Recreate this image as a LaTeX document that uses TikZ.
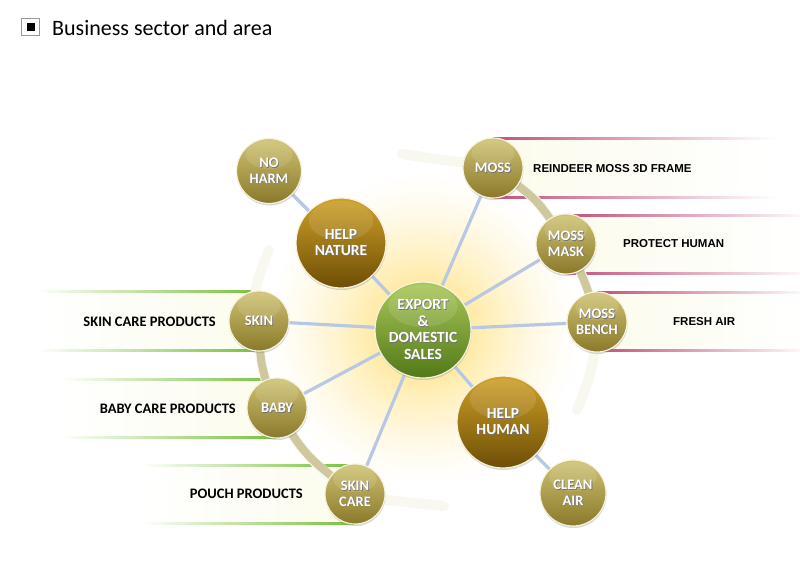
\documentclass[tikz,border=0pt]{standalone}
\usepackage{fontspec}
\setmainfont{Carlito}
\newfontfamily\helv{Liberation Sans}
\usetikzlibrary{shadows}
\definecolor{kTop}{RGB}{208,195,116}
\definecolor{kBot}{RGB}{138,121,42}
\definecolor{bTop}{RGB}{206,160,40}
\definecolor{bBot}{RGB}{110,78,6}
\definecolor{gTop}{RGB}{170,200,90}
\definecolor{gBot}{RGB}{82,120,24}
\definecolor{rim}{RGB}{246,242,222}
\definecolor{spokeC}{RGB}{184,200,228}
\definecolor{arcC}{RGB}{207,200,158}
\definecolor{arcF}{RGB}{248,247,240}
\definecolor{pinkL}{RGB}{196,80,125}
\definecolor{greenL}{RGB}{118,192,58}
\definecolor{bandC}{RGB}{251,251,236}
\definecolor{glowA}{RGB}{255,220,105}
\pgfdeclarelayer{bands}
\pgfdeclarelayer{spokes}
\pgfsetlayers{bands,spokes,main}
\newcommand\shd[1]{\makebox[0pt][l]{\kern0.8pt\raisebox{-0.8pt}{\textcolor{black!55}{#1}}}#1}
\newcommand\smallfont{\fontsize{14.5}{15.5}\selectfont\bfseries}
\newcommand\bigfont{\fontsize{15.5}{16.5}\selectfont\bfseries}
\tikzset{
  hl/.style={path picture={\fill[white,opacity=.11] ([yshift=0.25*#1]path picture bounding box.center) ellipse [x radius=0.36*#1, y radius=0.22*#1];}},
  ball/.style={circle, inner sep=0pt, draw=rim, line width=1.2pt, text=white, align=center,
    drop shadow={shadow xshift=0.5pt, shadow yshift=-2pt, opacity=.3}},
  kball/.style={ball, hl=#1, minimum size=#1, top color=kTop, bottom color=kBot, font=\smallfont},
  bball/.style={ball, hl=#1, minimum size=#1, top color=bTop, bottom color=bBot, font=\bigfont},
  gball/.style={ball, hl=#1, minimum size=#1, top color=gTop, bottom color=gBot, font=\bigfont},
  spoke/.style={draw=spokeC, line width=3.2pt},
  rlab/.style={inner sep=0pt, anchor=west, font=\helv\bfseries\fontsize{11.5}{13}\selectfont},
  llab/.style={inner sep=0pt, anchor=east, font=\bfseries\fontsize{14.5}{16}\selectfont},
  arcfaint/.style={draw=arcF, line width=10pt, line cap=round},
  arcmain/.style={draw=arcC, line width=8pt},
}
\begin{document}
\begin{tikzpicture}[x=1pt,y=-1pt]
\useasboundingbox (0,0) rectangle (800,582);

% title
\draw[gray!80, line width=0.9pt, fill=white] (21.5,18.5) rectangle (39.5,35);
\fill[black] (27,23) rectangle (35,31);
\node[anchor=base west, inner sep=0pt, font=\fontsize{22}{25}\selectfont] (title) at (52,35) {Business sector and area};

% nodes
\node[gball=96pt] (export) at (423,330) {\shd{EXPORT}\\\shd{\&}\\\shd{DOMESTIC}\\\shd{SALES}};
\node[bball=90pt] (helpnature) at (341,243) {\shd{HELP}\\\shd{NATURE}};
\node[bball=92pt] (helphuman) at (503,422) {\shd{HELP}\\\shd{HUMAN}};
\node[kball=65pt] (noharm) at (269,171) {\shd{NO}\\\shd{HARM}};
\node[kball=66pt] (cleanair) at (573,493) {\shd{CLEAN}\\\shd{AIR}};
\node[kball=60pt] (moss) at (493,168) {\shd{MOSS}};
\node[kball=60pt] (mask) at (566,244) {\shd{MOSS}\\\shd{MASK}};
\node[kball=60pt] (bench) at (597,322) {\shd{MOSS}\\\shd{BENCH}};
\node[kball=60pt] (skin) at (259,321) {\shd{SKIN}};
\node[kball=60pt] (baby) at (277,408) {\shd{BABY}};
\node[kball=60pt] (skincare) at (355,494) {\shd{SKIN}\\\shd{CARE}};

\begin{pgfonlayer}{bands}
  \fill[white] (0,0) rectangle (800,582);
  % glow: concentric discs
  \foreach \i in {0,...,39} {
    \pgfmathsetmacro\r{160-4*\i}
    \pgfmathsetmacro\p{100*(1-\r/160)^1.4}
    \fill[glowA!\p!white] (export.center) circle[radius=\r pt];
  }
  % right bands
  \fill[left color=bandC, right color=white] (493,138) rectangle (775,197);
  \fill[left color=pinkL, right color=white] (493,137) rectangle (775,139.3);
  \fill[left color=pinkL, right color=white] (493,196) rectangle (775,198.3);
  \fill[left color=bandC, right color=white] (566,215) rectangle (800,273);
  \fill[left color=pinkL, right color=white] (566,214) rectangle (810,216.3);
  \fill[left color=pinkL, right color=white] (566,272) rectangle (810,274.3);
  \fill[left color=bandC, right color=white] (597,292) rectangle (800,350);
  \fill[left color=pinkL, right color=white] (597,291) rectangle (810,293.3);
  \fill[left color=pinkL, right color=white] (597,349) rectangle (810,351.3);
  % left bands
  \fill[left color=white, right color=bandC] (35,291) rectangle (259,350);
  \fill[left color=white, right color=greenL] (35,290) rectangle (259,292.3);
  \fill[left color=white, right color=greenL] (35,349) rectangle (259,351.3);
  \fill[left color=white, right color=bandC] (60,379) rectangle (277,437);
  \fill[left color=white, right color=greenL] (60,378) rectangle (277,380.3);
  \fill[left color=white, right color=greenL] (60,436) rectangle (277,438.3);
  \fill[left color=white, right color=bandC] (140,465) rectangle (355,523);
  \fill[left color=white, right color=greenL] (140,464) rectangle (355,466.3);
  \fill[left color=white, right color=greenL] (140,522) rectangle (355,524.3);
  % arcs
  \draw[arcfaint] plot[smooth, tension=0.6] coordinates {(402,154) (450,161) (moss.center) (535,200) (mask.center) (585,283) (bench.center) (591,370) (577,410)};
  \draw[arcmain] plot[smooth, tension=0.6] coordinates {(moss.center) (535,200) (mask.center) (585,283) (bench.center)};
  \draw[arcfaint] plot[smooth, tension=0.6] coordinates {(269,250) (256,288) (skin.center) (262,365) (baby.center) (308,455) (skincare.center) (398,501) (444,506)};
  \draw[arcmain] plot[smooth, tension=0.6] coordinates {(skin.center) (262,365) (baby.center) (308,455) (skincare.center)};
\end{pgfonlayer}

\begin{pgfonlayer}{spokes}
  \foreach \n in {helpnature,helphuman,moss,mask,bench,skin,baby,skincare}
    \draw[spoke] (export) -- (\n);
  \draw[spoke] (noharm) -- (helpnature);
  \draw[spoke] (helphuman) -- (cleanair);
\end{pgfonlayer}

% labels
\node[rlab] (lmoss) at (533,169) {REINDEER MOSS 3D FRAME};
\node[rlab] (lmask) at (623,244) {PROTECT HUMAN};
\node[rlab] (lbench) at (673,322) {FRESH AIR};
\node[llab] (lskin) at (216,322) {SKIN CARE PRODUCTS};
\node[llab] (lbaby) at (236,409) {BABY CARE PRODUCTS};
\node[llab] (lpouch) at (303,494) {POUCH PRODUCTS};
\end{tikzpicture}
\end{document}
